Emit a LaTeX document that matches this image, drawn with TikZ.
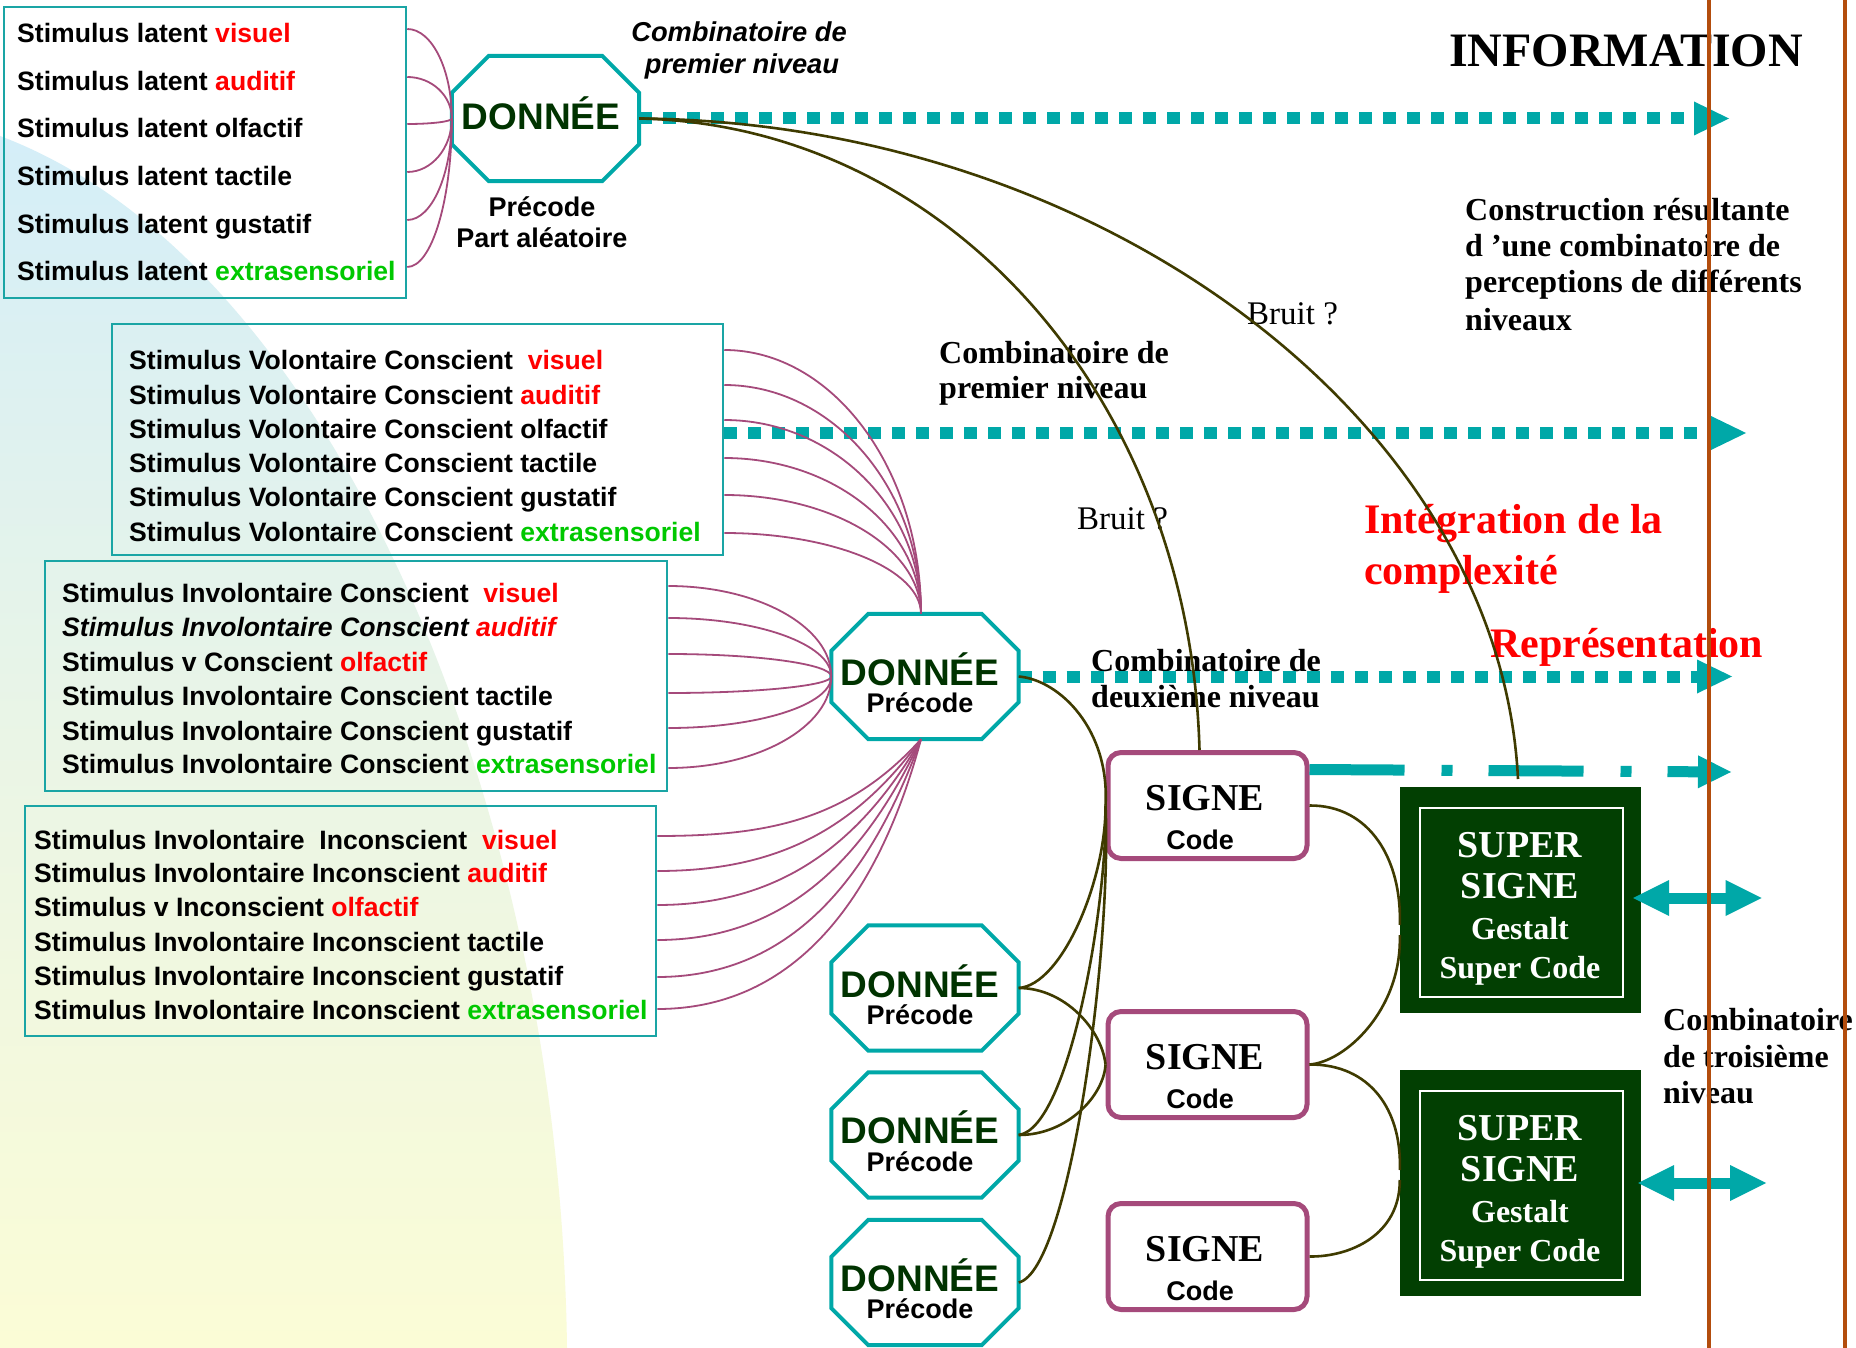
\documentclass[tikz,border=0pt]{standalone}
\usepackage{fontspec}
\setmainfont{Liberation Serif}
\newfontfamily\hvf{Liberation Sans}
\usetikzlibrary{arrows.meta,calc}
\definecolor{teal1}{HTML}{00A8A8}
\definecolor{tealbox}{HTML}{1AA5A5}
\definecolor{plum}{HTML}{A54A7B}
\definecolor{olive1}{HTML}{3F3B00}
\definecolor{dgreen}{HTML}{003300}
\definecolor{sgreen}{HTML}{023F02}
\definecolor{orng}{HTML}{B34D0D}
\definecolor{red1}{HTML}{FF0000}
\definecolor{grn1}{HTML}{00C800}
\definecolor{bgblue}{HTML}{D4EEF8}
\definecolor{bgmid}{HTML}{EAF5E6}
\definecolor{bgyel}{HTML}{FBFCD6}
\newcommand\mkoct[2]{%
  \node[octframe] (#1) at (#2) {};
  \filldraw[octline] ([xshift=37pt]#1.north west) -- ([xshift=-37pt]#1.north east) -- ([yshift=-37pt]#1.north east) -- ([yshift=37pt]#1.south east) -- ([xshift=-37pt]#1.south east) -- ([xshift=37pt]#1.south west) -- ([yshift=37pt]#1.south west) -- ([yshift=-37pt]#1.north west) -- cycle;}
\newcommand\qarc[2]{\draw[fan] (#1) .. controls ($(#1)!0.55!(#1-|#2)$) and ($(#2)!0.55!(#1-|#2)$) .. (#2);}
\begin{document}
\begin{tikzpicture}[x=1pt,y=-1pt,
 stim/.style={anchor=base west,inner sep=0pt,font=\hvf\bfseries\fontsize{26.6}{30}\selectfont},
 sbox/.style={draw=tealbox,line width=2.5pt,inner sep=0pt},
 octframe/.style={minimum width=187pt,minimum height=125pt,inner sep=0pt},
 octline/.style={draw=teal1,fill=white,line width=4pt,line join=miter},
 dtx/.style={anchor=base,inner sep=0pt,text=dgreen,font=\hvf\bfseries\fontsize{37}{40}\selectfont},
 ptx/.style={anchor=base,inner sep=0pt,font=\hvf\bfseries\fontsize{27}{30}\selectfont},
 signebox/.style={draw=plum,fill=white,line width=5pt,rounded corners=13pt,minimum width=199pt,minimum height=106pt,inner sep=0pt},
 stx/.style={anchor=base,inner sep=0pt,font=\bfseries\fontsize{38}{42}\selectfont},
 superbox/.style={fill=sgreen,minimum width=241pt,minimum height=226pt,inner sep=0pt},
 superin/.style={draw=white,line width=2pt,minimum width=203pt,minimum height=189pt,inner sep=0pt},
 supa/.style={anchor=base,inner sep=0pt,text=white,font=\bfseries\fontsize{38}{42}\selectfont},
 supb/.style={anchor=base,inner sep=0pt,text=white,font=\bfseries\fontsize{32}{36}\selectfont},
 lbl/.style={anchor=base west,inner sep=0pt,font=\bfseries\fontsize{32}{36}\selectfont},
 redlbl/.style={anchor=base west,inner sep=0pt,text=red1,font=\bfseries\fontsize{42}{46}\selectfont},
 fan/.style={draw=plum,line width=1.8pt},
 olv/.style={draw=olive1,line width=2.6pt},
 dotarr/.style={draw=teal1,line width=12pt,dash pattern=on 13pt off 11pt,-{Triangle[length=35pt,width=34pt,line width=0pt]}},
 dasharr/.style={draw=teal1,line width=11pt,dash pattern=on 95pt off 37pt on 11pt off 36pt,-{Triangle[length=33pt,width=33pt,line width=0pt]}},
 dblarr/.style={draw=teal1,line width=11pt,{Triangle[length=36pt,width=36pt,line width=0pt]}-{Triangle[length=36pt,width=36pt,line width=0pt]}},
 vline/.style={draw=orng,line width=4pt}
]
\useasboundingbox (0,0) rectangle (1856,1348);
\fill[white] (0,0) rectangle (1856,1348);
% background
\shade[top color=bgblue,bottom color=bgyel,middle color=bgmid] (0,136) .. controls (330,260) and (560,800) .. (567,1348) -- (0,1348) -- cycle;

% stimulus boxes
\node[sbox,minimum width=402pt,minimum height=291pt] (lat) at (205,152.5) {};
\node[sbox,minimum width=611pt,minimum height=231pt] (vbox) at (417.5,439.5) {};
\node[sbox,minimum width=622pt,minimum height=230pt] (cbox) at (356,676) {};
\node[sbox,minimum width=631pt,minimum height=230pt] (ibox) at (340.5,921) {};

\node[stim] (l1) at (17,43) {Stimulus latent \textcolor{red1}{visuel}};
\node[stim] (l2) at (17,91) {Stimulus latent \textcolor{red1}{auditif}};
\node[stim] (l3) at (17,138) {Stimulus latent olfactif};
\node[stim] (l4) at (17,186) {Stimulus latent tactile};
\node[stim] (l5) at (17,234) {Stimulus latent gustatif};
\node[stim] (l6) at (17,281) {Stimulus latent \textcolor{grn1}{extrasensoriel}};

\node[stim] (v1) at (129,370) {Stimulus Volontaire Conscient\ \ \textcolor{red1}{visuel}};
\node[stim] (v2) at (129,404) {Stimulus Volontaire Conscient \textcolor{red1}{auditif}};
\node[stim] (v3) at (129,438) {Stimulus Volontaire Conscient olfactif};
\node[stim] (v4) at (129,472) {Stimulus Volontaire Conscient tactile};
\node[stim] (v5) at (129,506) {Stimulus Volontaire Conscient gustatif};
\node[stim] (v6) at (129,541) {Stimulus Volontaire Conscient \textcolor{grn1}{extrasensoriel}};

\node[stim] (c1) at (62,602) {Stimulus Involontaire Conscient\ \ \textcolor{red1}{visuel}};
\node[stim] (c2) at (62,636) {\itshape Stimulus Involontaire Conscient \textcolor{red1}{auditif}};
\node[stim] (c3) at (62,671) {Stimulus v Conscient \textcolor{red1}{olfactif}};
\node[stim] (c4) at (62,705) {Stimulus Involontaire Conscient tactile};
\node[stim] (c5) at (62,740) {Stimulus Involontaire Conscient gustatif};
\node[stim] (c6) at (62,773) {Stimulus Involontaire Conscient \textcolor{grn1}{extrasensoriel}};

\node[stim] (i1) at (34,849) {Stimulus Involontaire\ \ Inconscient\ \ \textcolor{red1}{visuel}};
\node[stim] (i2) at (34,882) {Stimulus Involontaire Inconscient \textcolor{red1}{auditif}};
\node[stim] (i3) at (34,916) {Stimulus v Inconscient \textcolor{red1}{olfactif}};
\node[stim] (i4) at (34,951) {Stimulus Involontaire Inconscient tactile};
\node[stim] (i5) at (34,985) {Stimulus Involontaire Inconscient gustatif};
\node[stim] (i6) at (34,1019) {Stimulus Involontaire Inconscient \textcolor{grn1}{extrasensoriel}};

% octagons
\mkoct{d1}{545.5,118.5}
\mkoct{d2}{925,676.5}
\mkoct{d3}{925,988}
\mkoct{d4}{925,1135}
\mkoct{d5}{925,1282.5}
\node[dtx] (d1a) at (541,130) {DONNÉE};
\node[ptx] (d1b) at (542,217) {Précode};
\node[ptx] (d1c) at (542,248) {Part aléatoire};
\node[dtx] (d2a) at (920,685) {DONNÉE};
\node[ptx] (d2b) at (920,712) {Précode};
\node[dtx] (d3a) at (920,997) {DONNÉE};
\node[ptx] (d3b) at (920,1024.5) {Précode};
\node[dtx] (d4a) at (920,1143.5) {DONNÉE};
\node[ptx] (d4b) at (920,1171) {Précode};
\node[dtx] (d5a) at (920,1291) {DONNÉE};
\node[ptx] (d5b) at (920,1318.5) {Précode};

% SIGNE boxes
\node[signebox] (s1) at (1207.5,805.5) {};
\node[signebox] (s2) at (1207.5,1064.5) {};
\node[signebox] (s3) at (1207.5,1256.5) {};
\node[stx] (s1a) at (1205,810.5) {SIGNE};
\node[ptx] (s1b) at (1200,849) {Code};
\node[stx] (s2a) at (1205,1069.5) {SIGNE};
\node[ptx] (s2b) at (1200,1108.5) {Code};
\node[stx] (s3a) at (1205,1261.5) {SIGNE};
\node[ptx] (s3b) at (1200,1300.5) {Code};

% SUPER SIGNE boxes
\node[superbox] (ss1) at (1520.5,900) {};
\node[superin] (ss1i) at (1521.5,902.5) {};
\node[supa] (ss1a) at (1520,857) {SUPER};
\node[supa] (ss1b) at (1520,898.5) {SIGNE};
\node[supb] (ss1c) at (1520,939.5) {Gestalt};
\node[supb] (ss1d) at (1520,978) {Super Code};
\node[superbox] (ss2) at (1520.5,1183) {};
\node[superin] (ss2i) at (1521.5,1185.5) {};
\node[supa] (ss2a) at (1520,1140) {SUPER};
\node[supa] (ss2b) at (1520,1181.5) {SIGNE};
\node[supb] (ss2c) at (1520,1222.5) {Gestalt};
\node[supb] (ss2d) at (1520,1261) {Super Code};

% labels
\node[anchor=base,inner sep=0pt,font=\hvf\bfseries\itshape\fontsize{27.3}{32}\selectfont] (t1a) at (739,42) {Combinatoire de};
\node[anchor=base,inner sep=0pt,font=\hvf\bfseries\itshape\fontsize{27.3}{32}\selectfont] (t1b) at (742,74) {premier niveau};
\node[anchor=base west,inner sep=0pt,font=\bfseries\fontsize{48}{52}\selectfont] (info) at (1449,67) {INFORMATION};
\node[lbl] (k1) at (1465,221) {Construction résultante};
\node[lbl] (k2) at (1465,257) {d ’une combinatoire de};
\node[lbl] (k3) at (1465,293) {perceptions de différents};
\node[lbl] (k4) at (1465,331) {niveaux};
\node[anchor=base west,inner sep=0pt,font=\fontsize{33}{36}\selectfont] (br1) at (1247,325) {Bruit ?};
\node[anchor=base west,inner sep=0pt,font=\fontsize{33}{36}\selectfont] (br2) at (1077,529) {Bruit ?};
\node[lbl] (m1) at (939,363) {Combinatoire de};
\node[lbl] (m2) at (939,398) {premier niveau};
\node[lbl] (n1) at (1091,671) {Combinatoire de};
\node[lbl] (n2) at (1091,707) {deuxième niveau};
\node[lbl] (o1) at (1663,1030) {Combinatoire};
\node[lbl] (o2) at (1663,1067) {de troisième};
\node[lbl] (o3) at (1663,1103) {niveau};
\node[redlbl] (r1) at (1364,533) {Intégration de la};
\node[redlbl] (r2) at (1364,584) {complexité};
\node[redlbl] (r3) at (1490,657) {Représentation};

% dotted / dashed arrows
\coordinate (a1e) at (1729,118.5);
\coordinate (a2s) at ($(vbox.east)+(0,-6.5)$);
\coordinate (a2e) at (1746,433);
\coordinate (a3e) at (1732,676.5);
\coordinate (a4s) at ($(s1.north east)+(0,19.5)$);
\coordinate (a4e) at (1731,772);
\draw[dotarr] (d1.east) -- (a1e);
\draw[dotarr] (a2s) -- (a2e);
\draw[dotarr] (d2.east) -- (a3e);
\draw[dasharr] (a4s) -- (a4e);

% magenta fans
\foreach \i in {1,...,6} {\coordinate (lv\i) at ($(lat.east|-l\i.base)+(0,-14)$); \qarc{lv\i}{d1.west}}
\coordinate (d2n) at ($(d2.north)+(-4,0)$);
\foreach \i/\o in {1/-20,2/-19,3/-18,4/-14,5/-11,6/-8} {\coordinate (vv\i) at ($(vbox.east|-v\i.base)+(0,\o)$); \qarc{vv\i}{d2n}}
\foreach \i/\o in {1/-16,2/-18,3/-17,4/-12,5/-12,6/-5} {\coordinate (cv\i) at ($(cbox.east|-c\i.base)+(0,\o)$); \qarc{cv\i}{d2.west}}
\coordinate (d2s) at ($(d2.south)+(-4,0)$);
\foreach \i/\o/\a in {1/-13/228,2/-11/234,3/-11/240,4/-11/245,5/-8/250,6/-10/255} {\coordinate (iv\i) at ($(ibox.east|-i\i.base)+(0,\o)$); \draw[fan] (iv\i) to[out=0,in=\a] (d2s);}

% olive curves
\coordinate (s1t) at ($(s1.north)+(-8,0)$);
\coordinate (c2e) at (1518,779);
\draw[olv] (d1.east) .. controls (950,125) and (1190,400) .. (s1t);
\draw[olv] (d1.east) .. controls (1100,122) and (1500,420) .. (c2e);
\draw[olv] (d2.east) .. controls (1060,680) and (1110,730) .. (s1.west);
\draw[olv] (d3.east) .. controls (1062,985) and (1106,880) .. (s1.west);
\draw[olv] (d3.east) .. controls (1065,988) and (1102,1030) .. (s2.west);
\draw[olv] (d4.east) .. controls (1070,1128) and (1108,900) .. (s1.west);
\draw[olv] (d4.east) .. controls (1068,1135) and (1104,1095) .. (s2.west);
\draw[olv] (d5.east) .. controls (1070,1270) and (1112,950) .. (s1.west);
\coordinate (w1) at ($(ss1.west)+(0,25)$);
\coordinate (w2) at ($(ss1.west)+(0,35)$);
\coordinate (w3) at ($(ss2.west)+(0,-13)$);
\coordinate (w4) at ($(ss2.west)+(0,-3)$);
\draw[olv] (s1.east) .. controls (1370,805) and (1402,860) .. (w1);
\draw[olv] (w2) .. controls (1402,1010) and (1345,1062) .. (s2.east);
\draw[olv] (s2.east) .. controls (1370,1064) and (1402,1110) .. (w3);
\draw[olv] (w4) .. controls (1400,1235) and (1350,1257) .. (s3.east);

% double arrows
\coordinate (da1s) at (1633,898);
\coordinate (da1e) at (1761.5,898);
\coordinate (da2s) at (1638,1183);
\coordinate (da2e) at (1766,1183);
\draw[dblarr] (da1s) -- (da1e);
\draw[dblarr] (da2s) -- (da2e);

% vertical lines
\draw[vline] (1709,0) -- (1709,1348);
\draw[vline] (1845,0) -- (1845,1348);
\end{tikzpicture}
\end{document}
